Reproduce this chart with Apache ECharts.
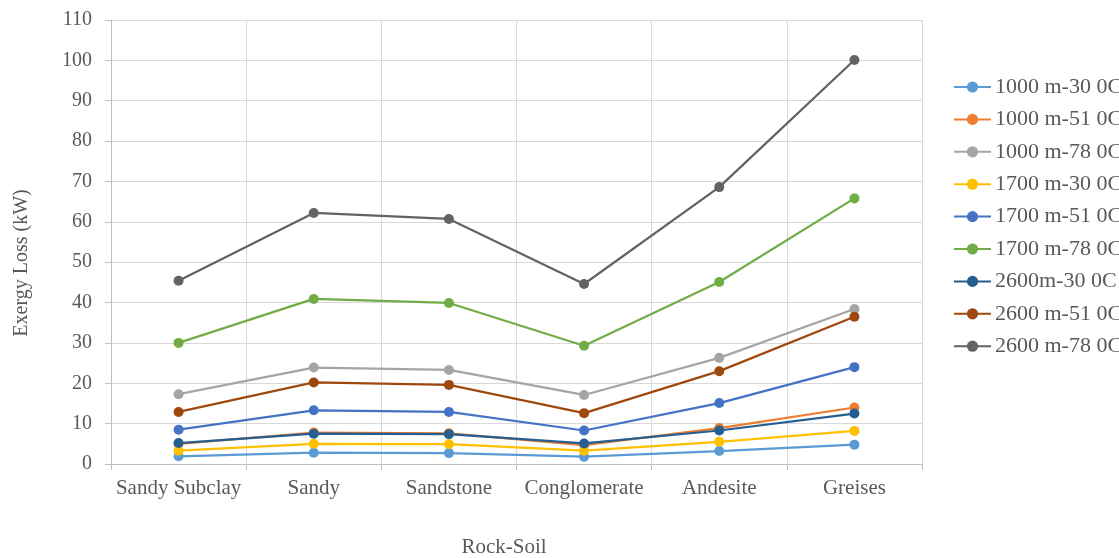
<!DOCTYPE html>
<html>
<head>
<meta charset="utf-8">
<script src="https://cdn.jsdelivr.net/npm/echarts@6/dist/echarts.min.js"></script>
<style>html,body{margin:0;padding:0;background:#fff;}#c{width:1119px;height:558px;}</style>
</head>
<body>
<div id="c"></div>
<script>
const categories = ["Sandy Subclay", "Sandy", "Sandstone", "Conglomerate", "Andesite", "Greises"];
const seriesNames = ["1000 m-30 0C", "1000 m-51 0C", "1000 m-78 0C", "1700 m-30 0C", "1700 m-51 0C", "1700 m-78 0C", "2600m-30 0C", "2600 m-51 0C", "2600 m-78 0C"];
const s1000_30 = [1.9, 2.8, 2.7, 1.8, 3.2, 4.8];
const s1000_51 = [5.0, 7.8, 7.6, 4.7, 8.9, 14.0];
const s1000_78 = [17.3, 23.9, 23.3, 17.1, 26.3, 38.4];
const s1700_30 = [3.3, 5.0, 4.9, 3.3, 5.5, 8.2];
const s1700_51 = [8.5, 13.3, 12.9, 8.3, 15.1, 24.0];
const s1700_78 = [30.0, 40.9, 39.9, 29.3, 45.1, 65.8];
const s2600_30 = [5.2, 7.5, 7.4, 5.1, 8.3, 12.5];
const s2600_51 = [12.9, 20.2, 19.6, 12.6, 23.0, 36.5];
const s2600_78 = [45.4, 62.2, 60.7, 44.6, 68.6, 100.1];
const yTicks = [0, 10, 20, 30, 40, 50, 60, 70, 80, 90, 100, 110];
const xTitle = "Rock-Soil";
const yTitle = "Exergy Loss (kW)";

const allData = [s1000_30, s1000_51, s1000_78, s1700_30, s1700_51, s1700_78, s2600_30, s2600_51, s2600_78];
const colors = ["#5B9BD5", "#ED7D31", "#A5A5A5", "#FFC000", "#4472C4", "#70AD47", "#255E91", "#9E480E", "#636363"];
const font = "'Liberation Serif', 'DejaVu Serif', serif";

const chart = echarts.init(document.getElementById('c'), null, {renderer: 'canvas'});
chart.setOption({
  animation: false,
  color: colors,
  grid: {left: 111, right: 197, top: 20, bottom: 94, containLabel: false, outerBoundsMode: 'none'},
  legend: {
    orient: 'vertical',
    left: 953,
    top: 76,
    padding: 0,
    itemWidth: 37,
    itemHeight: 14,
    itemGap: 10.4,
    data: seriesNames,
    textStyle: {fontFamily: font, fontSize: 22, lineHeight: 22, color: '#595959', padding: [0, 0, 0, -1]}
  },
  graphic: [
    {type: 'text', x: 504, y: 547, style: {text: xTitle, font: "21px 'Liberation Serif', serif", fill: '#595959', align: 'center', verticalAlign: 'middle'}},
    {type: 'text', x: 22, y: 263, rotation: Math.PI / 2, style: {text: yTitle, font: "20px 'Liberation Serif', serif", fill: '#595959', align: 'center', verticalAlign: 'middle'}}
  ],
  xAxis: {
    type: 'category',
    data: categories,
    boundaryGap: true,
    axisLine: {lineStyle: {color: '#bfbfbf', width: 1}},
    axisTick: {show: true, alignWithLabel: false, length: 6, lineStyle: {color: '#bfbfbf'}},
    axisLabel: {fontFamily: font, fontSize: 21, color: '#595959', margin: 14, interval: 0},
    splitLine: {show: true, lineStyle: {color: '#d9d9d9', width: 1}}
  },
  yAxis: {
    type: 'value',
    min: 0,
    max: 110,
    interval: 10,
    axisLine: {show: true, lineStyle: {color: '#bfbfbf', width: 1}},
    axisTick: {show: true, inside: false, length: 6, lineStyle: {color: '#bfbfbf'}},
    axisLabel: {fontFamily: font, fontSize: 20, color: '#595959', margin: 19,
      formatter: v => yTicks.includes(v) ? String(v) : ''},
    splitLine: {show: true, lineStyle: {color: '#d9d9d9', width: 1}}
  },
  series: allData.map((d, i) => ({
    name: seriesNames[i],
    type: 'line',
    data: d,
    symbol: 'circle',
    symbolSize: 10,
    lineStyle: {width: 2.25, color: colors[i]},
    itemStyle: {color: colors[i]}
  }))
});
</script>
</body>
</html>
